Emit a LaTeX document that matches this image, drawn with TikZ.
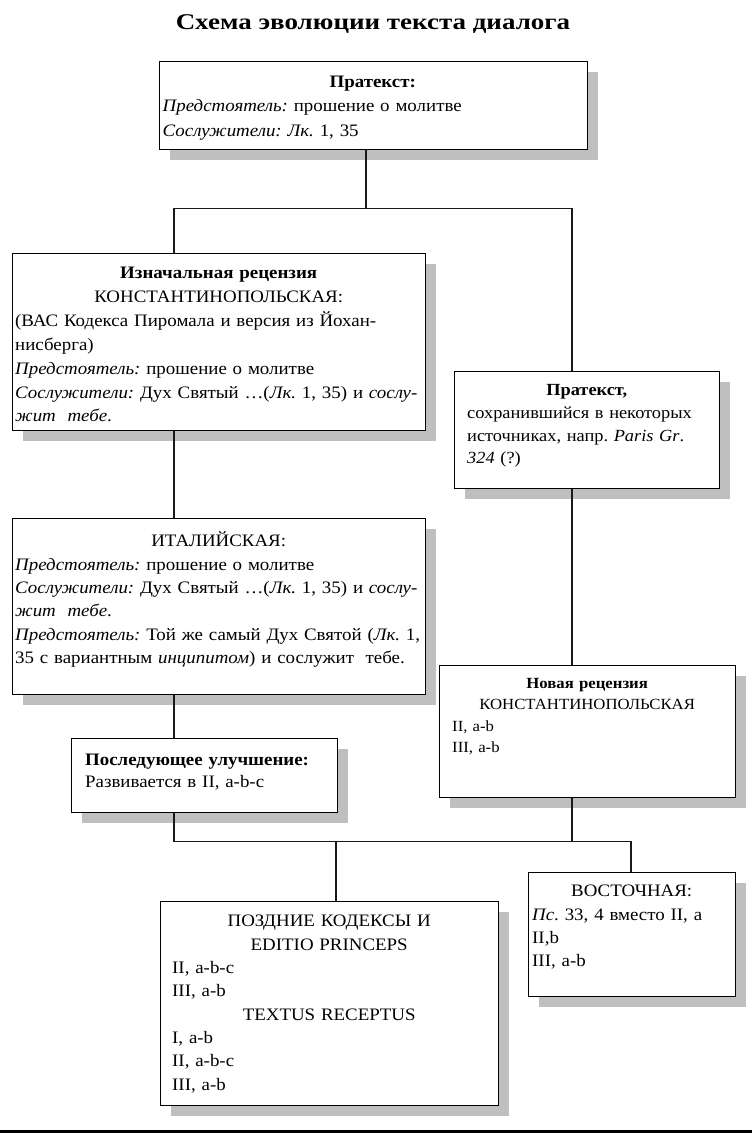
\documentclass[tikz,border=0pt]{standalone}
\usepackage{fontspec}
\setmainfont{Liberation Serif}[FakeStretch=1.08]
\usetikzlibrary{shadows}
\tikzset{
  box/.style={draw=black, line width=1.4pt, fill=white, inner sep=0pt, anchor=north west,
    drop shadow={shadow xshift=10pt, shadow yshift=-10pt, fill=black!25, opacity=1}},
  txt/.style={inner sep=0pt, anchor=north west},
  link/.style={line width=1.3pt, draw=black!90},
}
\newcommand{\fsz}[2]{\fontsize{#1}{#2}\selectfont}
\newcommand{\Lf}[1]{\mbox{#1}\\}
\newcommand{\Ll}[1]{\mbox{#1}}
\begin{document}
\frenchspacing
\begin{tikzpicture}[x=1pt,y=-1pt]
\useasboundingbox (0,0) rectangle (752,1133);

\node[font=\fsz{22.5}{26}\bfseries\addfontfeatures{FakeStretch=1.2}, anchor=base, inner sep=0pt] (title) at (373,29.3) {Схема эволюции текста диалога};

% boxes
\node[box, minimum width=428pt, minimum height=88pt] (b1) at (159,61) {};
\node[box, minimum width=413pt, minimum height=177pt] (b2) at (12,253) {};
\node[box, minimum width=265pt, minimum height=117pt] (b3) at (454,371) {};
\node[box, minimum width=413pt, minimum height=176pt] (b4) at (12,518) {};
\node[box, minimum width=296pt, minimum height=132pt] (b5) at (439,665) {};
\node[box, minimum width=266pt, minimum height=74pt] (b6) at (71,738) {};
\node[box, minimum width=338pt, minimum height=204pt] (b7) at (160,901) {};
\node[box, minimum width=207pt, minimum height=124pt] (b8) at (528,872) {};

% texts
\node[txt, text width=420pt, font=\fsz{17.5}{24.4}] (t1) at (162.5,70.2) {%
\centerline{\strut\textbf{Пратекст:}}
\Lf{\textit{Предстоятель:} прошение о молитве}
\Ll{\textit{Сослужители: Лк.} 1, 35}};

\node[txt, text width=407pt, font=\fsz{17.5}{23.9}] (t2) at (15,261.6) {%
\centerline{\strut\textbf{Изначальная рецензия}}
\centerline{КОНСТАНТИНОПОЛЬСКАЯ:}
\Lf{(ВАС Кодекса Пиромала и версия из Йохан-}
\Lf{нисберга)}
\Lf{\textit{Предстоятель:} прошение о молитве}
\Lf{\textit{Сослужители:} Дух Святый …(\textit{Лк.} 1, 35) и \textit{сослу-}}
\Ll{\textit{жит\ \ тебе}.}};

\node[txt, text width=239pt, font=\fsz{17}{22.7}] (t3) at (467,379.8) {%
\centerline{\strut\textbf{Пратекст,}}
\Lf{сохранившийся в некоторых}
\Lf{источниках, напр. \textit{Paris Gr}.}
\Ll{\textit{324} (?)}};

\node[txt, text width=407pt, font=\fsz{17.5}{23.3}] (t4) at (15,530.4) {%
\centerline{\strut ИТАЛИЙСКАЯ:}
\Lf{\textit{Предстоятель:} прошение о молитве}
\Lf{\textit{Сослужители:} Дух Святый …(\textit{Лк.} 1, 35) и \textit{сослу-}}
\Lf{\textit{жит\ \ тебе}.}
\Lf{\textit{Предстоятель:} Той же самый Дух Святой (\textit{Лк.} 1,}
\Ll{35 с вариантным \textit{инципитом}) и сослужит\ \ тебе.}};

\node[txt, text width=270pt, font=\fsz{15.5}{21.5}] (t5) at (452,673) {%
\centerline{\strut\textbf{Новая рецензия}}
\centerline{КОНСТАНТИНОПОЛЬСКАЯ}
\Lf{II, a-b}
\Ll{III, a-b}};

\node[txt, text width=242pt, font=\fsz{17.5}{22}] (t6) at (85,749.6) {%
\Lf{\strut\textbf{Последующее улучшение:}}
\Ll{Развивается в II, a-b-c}};

\node[txt, text width=314pt, font=\fsz{17.5}{23.3}] (t7) at (172,910.4) {%
\centerline{\strut ПОЗДНИЕ КОДЕКСЫ И}
\centerline{EDITIO PRINCEPS}
\Lf{II, a-b-c}
\Ll{III, a-b}\par
\centerline{TEXTUS RECEPTUS}
\Lf{I, a-b}
\Lf{II, a-b-c}
\Ll{III, a-b}};

\node[txt, text width=199pt, font=\fsz{17.5}{23.3}] (t8) at (532,880.4) {%
\centerline{\strut ВОСТОЧНАЯ:}
\Lf{\textit{Пс}. 33, 4 вместо II, а}
\Lf{II,b}
\Ll{III, a-b}};

% connectors
\coordinate (j1) at (366,208.3);
\coordinate (jl) at (174,208.3);
\coordinate (jr) at (572,208.3);
\draw[link] (b1.south -| j1) -- (j1);
\draw[link] (b2.north -| jl) -- (jl) -- (jr) -- (b3.north -| jr);
\draw[link] (b2.south -| jl) -- (b4.north -| jl);
\draw[link] (b3.south -| jr) -- (b5.north -| jr);
\draw[link] (b4.south -| jl) -- (b6.north -| jl);
\coordinate (k1) at (174,841.7);
\coordinate (k2) at (631,841.7);
\coordinate (k3) at (336,841.7);
\coordinate (k4) at (572,841.7);
\draw[link] (b6.south -| k1) -- (k1) -- (k2) -- (b8.north -| k2);
\draw[link] (b5.south -| k4) -- (k4);
\draw[link] (k3) -- (b7.north -| k3);

% bottom rule
\fill[black] (0,1129.5) rectangle (752,1133);
\end{tikzpicture}
\end{document}
